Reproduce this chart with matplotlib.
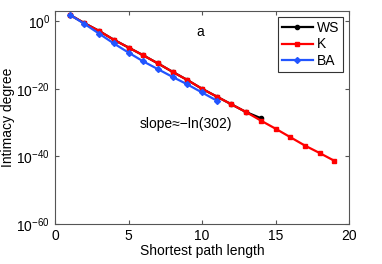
import numpy as np
import matplotlib.pyplot as plt

plt.rcParams['font.family'] = ['Liberation Sans', 'DejaVu Sans']

# log10 of intimacy degree
ws_x = [1, 2, 3, 4, 5, 6, 7, 8, 9, 10, 11, 12, 13, 14]
ws_y = [1.9, -0.6, -2.9, -5.5, -7.8, -10.1, -12.5, -15.0, -17.4, -20.0, -22.3, -24.6, -26.9, -28.7]
k_x = list(range(1, 20))
k_y = [1.9, -0.6, -2.9, -5.5, -7.8, -10.1, -12.5, -15.0, -17.4, -20.0,
       -22.3, -24.6, -26.9, -29.4, -31.8, -34.3, -36.8, -39.0, -41.3]
ba_x = list(range(1, 12))
ba_y = [1.9, -0.8, -3.7, -6.6, -9.3, -11.9, -14.2, -16.5, -18.7, -21.1, -23.5]

fig = plt.figure(figsize=(3.82, 2.64), dpi=100)
ax = fig.add_axes([55/382, 1 - 224/264, 294/382, 213/264])

ax.semilogy(ws_x, 10.0**np.array(ws_y), '-o', color='black', lw=1.6, ms=3, label='WS')
ax.semilogy(k_x, 10.0**np.array(k_y), '-s', color='#ff0000', lw=1.6, ms=3.5, label='K')
ax.semilogy(ba_x, 10.0**np.array(ba_y), '-D', color='#2255ff', lw=1.6, ms=3, label='BA')

ax.set_xlim(0, 20)
ax.set_ylim(1e-60, 1e3)
ax.set_xticks([0, 5, 10, 15, 20])
ax.set_yticks([1e0, 1e-20, 1e-40, 1e-60])
ax.minorticks_off()
ax.tick_params(direction='in', top=True, right=True, labelsize=10, length=3, color='#555555')
for s in ax.spines.values():
    s.set_color('#555555')

ax.set_xlabel('Shortest path length', fontsize=10, labelpad=1)
ax.set_ylabel('Intimacy degree', fontsize=10, labelpad=1)

ax.text(9.9, 10.0**-3.3, 'a', fontsize=10, ha='center', va='center')
ax.text(8.9, 10.0**-30.3, 'slope\u2248\u2212ln(302)', fontsize=10, ha='center', va='center')

leg = ax.legend(loc='upper right', fontsize=10, fancybox=False, framealpha=1,
                edgecolor='#333333', handlelength=2.2, borderpad=0.3,
                labelspacing=0.2, handletextpad=0.3, borderaxespad=0.4)
leg.get_frame().set_linewidth(0.8)

fig.savefig('out.png', dpi=100)
